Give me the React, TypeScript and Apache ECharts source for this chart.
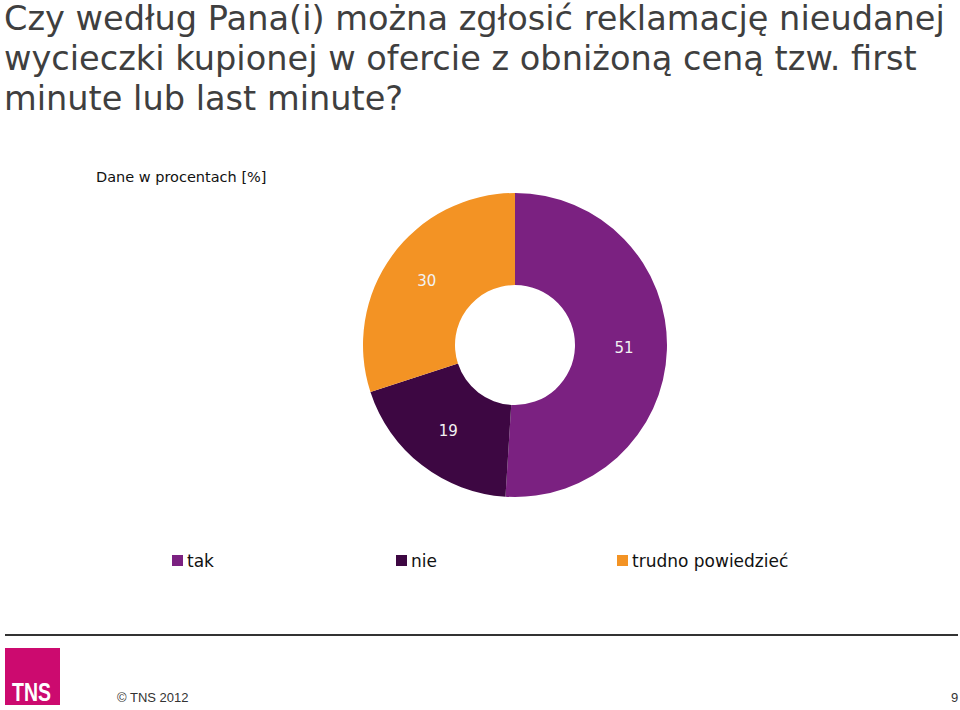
import React, { useEffect, useRef } from "react";
import * as echarts from "echarts";

const titleLines = [
  "Czy według Pana(i) można zgłosić reklamację nieudanej",
  "wycieczki kupionej w ofercie z obniżoną ceną tzw. first",
  "minute lub last minute?",
];
const subtitle = "Dane w procentach [%]";
const categories = ["tak", "nie", "trudno powiedzieć"];
const values = [51, 19, 30];
const colors = ["#7B2181", "#3D0742", "#F39324"];
const legendLefts = [172, 396, 617];
const footerText = "© TNS 2012";
const pageNumber = "9";

export default function App() {
  const ref = useRef<HTMLDivElement>(null);
  useEffect(() => {
    if (!ref.current) return;
    const chart = echarts.init(ref.current, undefined, { renderer: "svg" });
    const font = "DejaVu Sans, Verdana, sans-serif";
    chart.setOption({
      animation: false,
      backgroundColor: "#ffffff",
      title: [
        {
          text: titleLines.join("\n"),
          left: 4,
          top: -2,
          padding: 0,
          textStyle: {
            fontFamily: font,
            fontSize: 33.6,
            fontWeight: "normal",
            color: "#3f3f3f",
            lineHeight: 40,
          },
        },
        {
          text: subtitle,
          left: 96,
          top: 169,
          padding: 0,
          textStyle: {
            fontFamily: font,
            fontSize: 14.5,
            fontWeight: "normal",
            color: "#111111",
          },
        },
      ],
      legend: categories.map((c, i) => ({
        data: [c],
        left: legendLefts[i],
        top: 552,
        padding: 0,
        itemWidth: 11,
        itemHeight: 11,
        itemGap: 4,
        icon: "rect",
        textStyle: {
          fontFamily: font,
          fontSize: 17,
          color: "#111111",
          padding: [0, 0, 0, -1],
        },
      })),
      series: [
        {
          type: "pie",
          center: [515, 345],
          radius: [60, 152],
          startAngle: 90,
          clockwise: true,
          avoidLabelOverlap: false,
          label: {
            show: true,
            position: "inside",
            formatter: "{c}",
            color: "#f2f2f2",
            fontFamily: font,
            fontSize: 15,
          },
          labelLine: { show: false },
          emphasis: { disabled: true },
          data: categories.map((c, i) => ({
            name: c,
            value: values[i],
            itemStyle: { color: colors[i] },
          })),
        },
      ],
      graphic: [
        {
          type: "line",
          shape: { x1: 5, y1: 635, x2: 958, y2: 635 },
          style: { stroke: "#333333", lineWidth: 2 },
        },
        {
          type: "rect",
          shape: { x: 5, y: 648, width: 55, height: 57 },
          style: { fill: "#CC0A6F" },
        },
        {
          type: "text",
          x: 12,
          y: 680,
          scaleX: 0.78,
          style: {
            text: "TNS",
            fill: "#ffffff",
            font: "bold 25px 'Liberation Sans', Arial, sans-serif",
          },
        },
        {
          type: "text",
          x: 117,
          y: 691,
          style: {
            text: footerText,
            fill: "#333333",
            font: "13px 'Liberation Sans', Arial, sans-serif",
          },
        },
        {
          type: "text",
          x: 951,
          y: 691,
          style: {
            text: pageNumber,
            fill: "#333333",
            font: "13px 'Liberation Sans', Arial, sans-serif",
          },
        },
      ],
    });
    return () => chart.dispose();
  }, []);
  return (
    <div
      ref={ref}
      style={{ position: "fixed", left: 0, top: 0, width: 960, height: 710 }}
    />
  );
}
